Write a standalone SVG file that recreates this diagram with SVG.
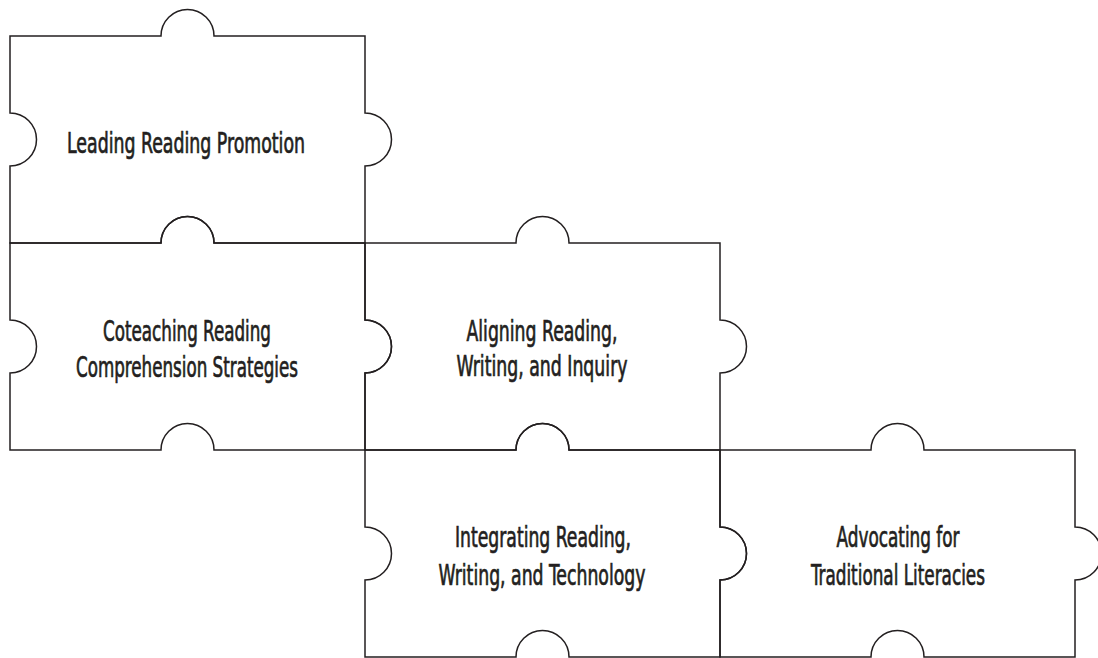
<svg xmlns="http://www.w3.org/2000/svg" xmlns:xlink="http://www.w3.org/1999/xlink" width="1098" height="658" viewBox="0 0 1098 658">
  <style>
    .piece { fill: none; stroke: #231f20; stroke-width: 1.5; stroke-linejoin: miter; }
    .label { font-family: "Liberation Sans Narrow", "DejaVu Sans Condensed", "Liberation Sans", sans-serif; font-size: 28px; fill: #231f20; stroke: #231f20; stroke-width: 0.7; text-anchor: middle; }
  </style>
  <defs>
    <path id="puzzle" d="M0,0 H151 A26.5,26.5 0 0 1 204,0 H355 V77 A26.5,26.5 0 0 1 355,130 V207 H204 A26.5,26.5 0 0 0 151,207 H0 V130 A26.5,26.5 0 0 0 0,77 Z"/>
  </defs>
  <rect width="1098" height="658" fill="#ffffff"/>
  <g id="piece-leading">
    <use href="#puzzle" xlink:href="#puzzle" class="piece" transform="translate(10,36)"/>
    <text class="label" x="186" y="153" textLength="238" lengthAdjust="spacingAndGlyphs">Leading Reading Promotion</text>
  </g>
  <g id="piece-coteaching">
    <use href="#puzzle" xlink:href="#puzzle" class="piece" transform="translate(10,243)"/>
    <text class="label" x="187" y="341" textLength="168" lengthAdjust="spacingAndGlyphs">Coteaching Reading</text>
    <text class="label" x="187" y="377" textLength="222" lengthAdjust="spacingAndGlyphs">Comprehension Strategies</text>
  </g>
  <g id="piece-aligning">
    <use href="#puzzle" xlink:href="#puzzle" class="piece" transform="translate(365,243)"/>
    <text class="label" x="542" y="341" textLength="151" lengthAdjust="spacingAndGlyphs">Aligning Reading,</text>
    <text class="label" x="542" y="376" textLength="171" lengthAdjust="spacingAndGlyphs">Writing, and Inquiry</text>
  </g>
  <g id="piece-integrating">
    <use href="#puzzle" xlink:href="#puzzle" class="piece" transform="translate(365,450)"/>
    <text class="label" x="543" y="547" textLength="176" lengthAdjust="spacingAndGlyphs">Integrating Reading,</text>
    <text class="label" x="542" y="585" textLength="207" lengthAdjust="spacingAndGlyphs">Writing, and Technology</text>
  </g>
  <g id="piece-advocating">
    <use href="#puzzle" xlink:href="#puzzle" class="piece" transform="translate(720,450)"/>
    <text class="label" x="898" y="547" textLength="123" lengthAdjust="spacingAndGlyphs">Advocating for</text>
    <text class="label" x="898" y="585" textLength="174" lengthAdjust="spacingAndGlyphs">Traditional Literacies</text>
  </g>
  <g id="connectors"></g>
</svg>
